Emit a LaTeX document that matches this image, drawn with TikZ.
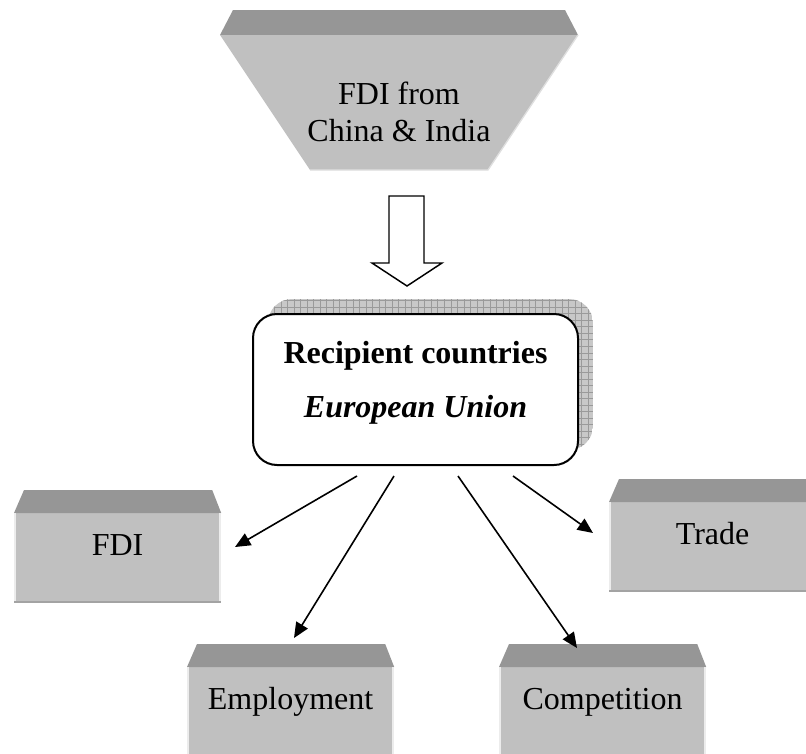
\documentclass[tikz,border=0pt]{standalone}
\usepackage{fontspec}
\setmainfont{Liberation Serif}
\usetikzlibrary{arrows.meta,positioning}
\definecolor{bodygray}{HTML}{C0C0C0}
\definecolor{topgray}{HTML}{969696}
\definecolor{shadowgray}{HTML}{C8C8C8}
\definecolor{gridgray}{HTML}{9A9A9A}

\begin{document}
\begin{tikzpicture}[x=0.75pt,y=-0.75pt,
    effect/.style={fill=bodygray, minimum width=155pt, inner xsep=0pt, inner ysep=0pt,
      text height=31.5pt, text depth=35.5pt, font=\fontsize{24}{28}\selectfont, anchor=north west},
    eubox/.style={draw, line width=1.5pt, rounded corners=18pt, fill=white,
      minimum width=243.75pt, minimum height=113.25pt},
    link/.style={-{Triangle[length=11.5pt,width=10pt]}, line width=1.2pt}
  ]
  \useasboundingbox (0,0) rectangle (806,753);
  \clip (0,0) rectangle (806,753);

  % source funnel
  \fill[topgray] (233,10) -- (565,10) -- (578,35) -- (220,35) -- cycle;
  \fill[bodygray] (220,35) -- (578,35) -- (488,170) -- (310,170) -- cycle;
  \draw[gray!25, line width=1pt] (578,35) -- (488,170) -- (310,170);
  \node[font=\fontsize{24}{27.75}\selectfont, align=center] (src) at (399,112) {FDI from\\China \& India};

  % hollow arrow
  \draw[line width=1.1pt, fill=white] (389,196) -- (424,196) -- (424,263) -- (442,263)
    -- (407,286) -- (372,263) -- (389,263) -- cycle;

  % recipient box with shadow
  \begin{scope}
    \clip[rounded corners=18pt] (268,299) rectangle (593,450);
    \fill[shadowgray] (268,299) rectangle (593,450);
    \draw[gridgray, line width=0.4pt, step=4.9pt] (268,299) grid (593,450);
  \end{scope}
  \node[eubox] (eu) at (415.5,389.5) {};
  \node[font=\fontsize{24}{40}\selectfont, align=center] (eutext) at ([yshift=5pt]eu.center)
    {\textbf{Recipient countries}\\\textbf{\textit{European Union}}};

  % effects
  \node[effect] (fdi) at (14,513) {FDI};
  \node[effect] (trade) at (609,502) {Trade};
  \node[effect] (employ) at (187,667) {Employment};
  \node[effect] (compet) at (499,667) {Competition};

  \foreach \b in {fdi,trade,employ,compet}{
    \fill[topgray] (\b.north west) -- ([shift={(10,-23)}]\b.north west)
      -- ([shift={(-9,-23)}]\b.north east) -- (\b.north east) -- cycle;
    \draw[gray!15, line width=1.5pt] ([xshift=0.75pt]\b.north west) -- ([xshift=0.75pt]\b.south west);
    \draw[gray!15, line width=1.5pt] ([xshift=-0.75pt]\b.north east) -- ([xshift=-0.75pt]\b.south east);
    \draw[gray!45!bodygray, line width=1.5pt] ([yshift=0.75pt]\b.south west) -- ([yshift=0.75pt]\b.south east);
  }

  % arrows
  \coordinate (out fdi) at (357,476);
  \coordinate (out employ) at (394,476);
  \coordinate (out compet) at (458,476);
  \coordinate (out trade) at (513,476);
  \coordinate (in fdi) at (235,547);
  \coordinate (in employ) at (294,638);
  \coordinate (in compet) at (577,648);
  \coordinate (in trade) at (593,533);
  \foreach \b in {fdi,employ,compet,trade}
    \draw[link] (out \b) -- (in \b);
\end{tikzpicture}
\end{document}
